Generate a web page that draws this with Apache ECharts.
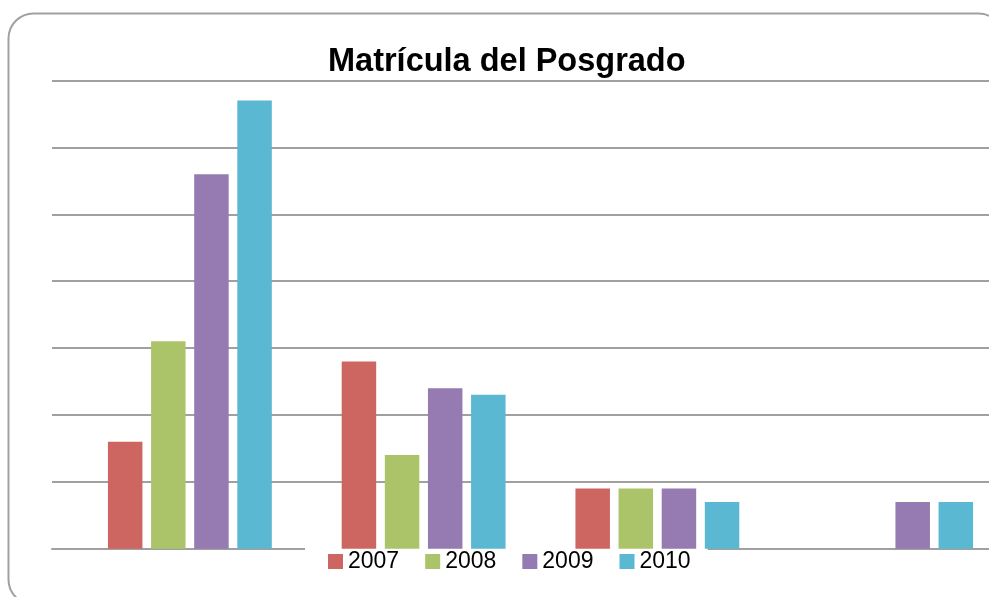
<!DOCTYPE html>
<html>
<head>
<meta charset="utf-8">
<script src="https://cdn.jsdelivr.net/npm/echarts/dist/echarts.min.js"></script>
<style>
  html, body { margin: 0; padding: 0; background: #fff; }
  #chart { width: 989px; height: 597px; }
</style>
</head>
<body>
<div id="chart"></div>
<script>
// categorias (sin etiquetas visibles en el original)
const categories = ['A', 'B', 'C', 'D']
const years = ['2007', '2008', '2009', '2010']
const v2007 = [16, 28, 9, null]
const v2008 = [31, 14, 9, null]
const v2009 = [56, 24, 9, 7]
const v2010 = [67, 23, 7, 7]
const yMax = 70
const yStep = 10

const colors = ['#CD6660', '#ABC46A', '#957BB1', '#5BB8D2']
const values = [v2007, v2008, v2009, v2010]

const gridColor = '#a0a0a0'
const font = 'Liberation Sans'

const series = years.map((y, i) => ({
    name: y,
    type: 'bar',
    xAxisIndex: 1,
    yAxisIndex: 1,
    data: values[i],
    barWidth: 34.5,
    barGap: '25%',
    itemStyle: { color: colors[i] }
}))

var myChart = echarts.init(document.getElementById('chart'))
var option = {
    animation: false,
    color: colors,
    title: {
        text: 'Matrícula del Posgrado',
        left: 328,
        top: 46,
        padding: 0,
        textStyle: { fontFamily: font, fontWeight: 'bold', fontSize: 32.5, color: '#000' }
    },
    legend: {
        data: years,
        left: 305,
        top: 546,
        z: 1,
        padding: [4, 17, 5, 23],
        backgroundColor: '#fff',
        icon: 'rect',
        itemWidth: 15,
        itemHeight: 15,
        itemGap: 26,
        textStyle: { fontFamily: font, fontSize: 23, color: '#000' }
    },
    grid: [
        { left: 52, width: 937, top: 80.5, bottom: 48.3, outerBoundsMode: 'none' },
        { left: 73, width: 935, top: 80.5, bottom: 48.3, outerBoundsMode: 'none' }
    ],
    xAxis: [
        {
            gridIndex: 0, type: 'category', data: categories,
            axisLine: { show: true, lineStyle: { color: gridColor, width: 2 } },
            axisTick: { show: false }, axisLabel: { show: false }, splitLine: { show: false }
        },
        {
            gridIndex: 1, type: 'category', data: categories,
            axisLine: { show: false }, axisTick: { show: false }, axisLabel: { show: false }
        }
    ],
    yAxis: [
        {
            gridIndex: 0, type: 'value', min: 0, max: yMax, interval: yStep,
            axisLine: { show: false }, axisTick: { show: false }, axisLabel: { show: false },
            splitLine: { show: true, lineStyle: { color: gridColor, width: 2 } }
        },
        {
            gridIndex: 1, type: 'value', min: 0, max: yMax, interval: yStep,
            show: false, splitLine: { show: false }
        }
    ],
    graphic: [
        {
            type: 'rect',
            z: -1,
            shape: { x: 8.5, y: 13.5, width: 995, height: 591, r: 25 },
            style: { fill: 'none', stroke: gridColor, lineWidth: 2 }
        }
    ],
    series
}
myChart.setOption(option)
</script>
</body>
</html>
